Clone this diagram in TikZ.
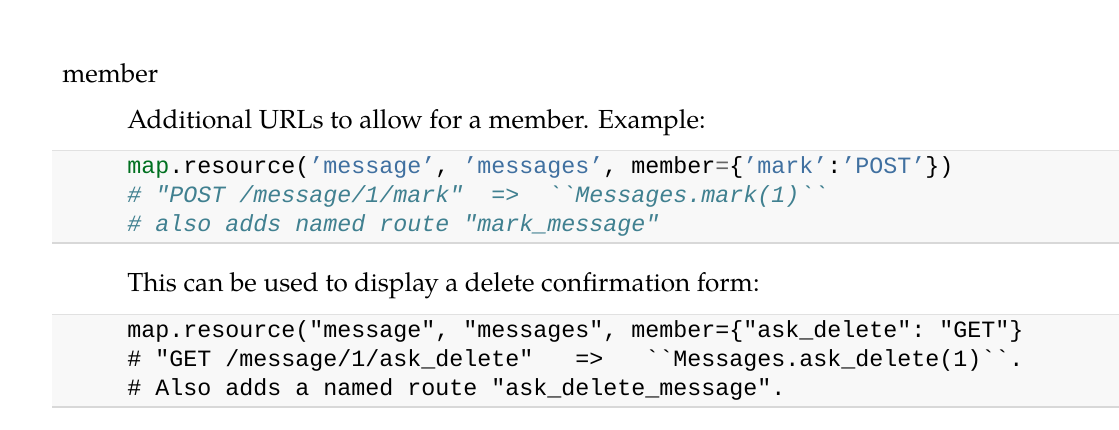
\documentclass[tikz,border=0pt]{standalone}
\usepackage{tikz}
\usepackage{xcolor}
\usepackage{fontspec}
\setmainfont{TeX Gyre Pagella}
\setmonofont{Liberation Mono}

\definecolor{codebg}{RGB}{248,248,248}
\definecolor{coderule}{RGB}{225,225,225}
\definecolor{codebuiltin}{RGB}{0,112,32}
\definecolor{codestring}{RGB}{64,112,160}
\definecolor{codeop}{RGB}{102,102,102}
\definecolor{codecomment}{RGB}{64,128,144}

\begin{document}
\begin{tikzpicture}[x=0.75pt,y=0.75pt,yscale=-1,xscale=1,
  bodytext/.style={anchor=base west,inner sep=0,font=\fontsize{19.6}{24}\selectfont},
  codeline/.style={anchor=base west,inner sep=0,font=\ttfamily\fontsize{17.5}{21}\selectfont},
  comment/.style={codeline,text=codecomment,font=\ttfamily\itshape\fontsize{17.5}{21}\selectfont}]
%set diagram left start at 0, and has height of 429
\useasboundingbox (0,0) rectangle (1119,429);

%Shape: Code box 1
\fill [codebg] (52,150) rectangle (1119,243) ;
\draw [coderule,line width=0.75] (52,150) -- (1119,150) ;
\draw [coderule!80!black!20!coderule,line width=1.5] (52,243) -- (1119,243) ;

%Shape: Code box 2
\fill [codebg] (52,314) rectangle (1119,407) ;
\draw [coderule,line width=0.75] (52,314) -- (1119,314) ;
\draw [coderule!80!black!20!coderule,line width=1.5] (52,407) -- (1119,407) ;

% Text Node
\node [bodytext] (member) at (62,82) {member};
% Text Node
\node [bodytext] (desc1) at (127,128) {Additional URLs to allow for a member. Example:};
% Text Node
\node [codeline] (code1a) at (127,173) {\textcolor{codebuiltin}{map}.resource(\textcolor{codestring}{’message’}, \textcolor{codestring}{’messages’}, member\textcolor{codeop}{=}\{\textcolor{codestring}{’mark’}:\textcolor{codestring}{’POST’}\})};
% Text Node
\node [comment] (code1b) at (127,202) {\# "POST /message/1/mark"\ \ =>\ \ ``Messages.mark(1)``};
% Text Node
\node [comment] (code1c) at (127,231) {\# also adds named route "mark\_message"};

% Text Node
\node [bodytext] (desc2) at (127,291) {This can be used to display a delete confirmation form:};
% Text Node
\node [codeline] (code2a) at (127,337) {map.resource("message", "messages", member=\{"ask\_delete": "GET"\}};
% Text Node
\node [codeline] (code2b) at (127,366) {\# "GET /message/1/ask\_delete"\ \ \ =>\ \ \ ``Messages.ask\_delete(1)``.};
% Text Node
\node [codeline] (code2c) at (127,395) {\# Also adds a named route "ask\_delete\_message".};

\end{tikzpicture}
\end{document}
